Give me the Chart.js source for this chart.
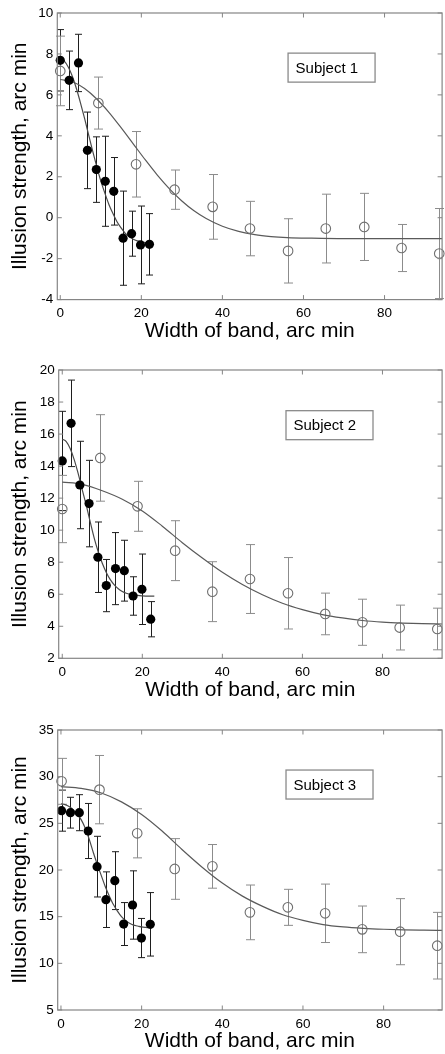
<!DOCTYPE html>
<html><head><meta charset="utf-8">
<script src="https://cdn.jsdelivr.net/npm/chart.js@4/dist/chart.umd.min.js"></script>
<style>
html,body{margin:0;padding:0;background:#fff;overflow:hidden;width:445px;height:1054px;position:relative;}
canvas{position:absolute;left:0;}
</style></head><body>
<canvas id="c1" width="448" height="345" style="top:0px;width:448px;height:345px"></canvas>
<canvas id="c2" width="448" height="347" style="top:357px;width:448px;height:347px"></canvas>
<canvas id="c3" width="448" height="338" style="top:717px;width:448px;height:338px"></canvas>
<script>
// ---------- data ----------
const xTicks = [0, 20, 40, 60, 80];
const xTitle = 'Width of band, arc min';
const yTitle = 'Illusion strength, arc min';

// Subject 1
const s1Label = 'Subject 1';
const s1YTicks = [-4, -2, 0, 2, 4, 6, 8, 10];
const s1FilledX = [0, 2.2, 4.5, 6.7, 8.9, 11.1, 13.2, 15.5, 17.6, 19.8, 22.0];
const s1FilledY = [7.69, 6.71, 7.56, 3.29, 2.35, 1.78, 1.29, -1.0, -0.78, -1.33, -1.30];
const s1FilledErr = [1.5, 1.43, 1.4, 1.87, 1.6, 2.2, 1.65, 2.3, 1.1, 1.9, 1.5];
const s1OpenX = [0, 9.4, 18.7, 28.2, 37.6, 46.8, 56.2, 65.5, 75.0, 84.2, 93.5];
const s1OpenY = [7.17, 5.6, 2.61, 1.37, 0.53, -0.53, -1.62, -0.53, -0.45, -1.48, -1.75];
const s1OpenErr = [1.7, 1.27, 1.6, 0.96, 1.58, 1.33, 1.57, 1.68, 1.64, 1.15, 2.2];
const s1FitFilledX = [0,1,2,3,4,5,6,7,8,9,10,11,12,13,14,15,16,17,18,19,20,21,22.5];
const s1FitFilledY = [7.75,7.65,7.35,6.9,6.3,5.6,4.85,4.05,3.25,2.5,1.8,1.2,0.65,0.2,-0.2,-0.5,-0.75,-0.92,-1.05,-1.13,-1.18,-1.21,-1.24];
const s1FitOpenX = [0,3,6,9,12,15,18,21,24,27,30,33,36,40,44,48,52,56,62,70,80,95];
const s1FitOpenY = [6.75,6.64,6.31,5.80,5.15,4.40,3.61,2.82,2.07,1.40,0.82,0.34,-0.04,-0.42,-0.67,-0.83,-0.92,-0.97,-1.0,-1.02,-1.02,-1.02];

// Subject 2
const s2Label = 'Subject 2';
const s2YTicks = [2, 4, 6, 8, 10, 12, 14, 16, 18, 20];
const s2FilledX = [0, 2.2, 4.4, 6.7, 8.9, 11.0, 13.3, 15.5, 17.7, 19.9, 22.1];
const s2FilledY = [14.32, 16.67, 12.82, 11.66, 8.31, 6.54, 7.6, 7.47, 5.89, 6.31, 4.44];
const s2FilledErr = [3.1, 2.7, 2.73, 2.7, 2.2, 1.63, 2.25, 1.9, 1.2, 2.2, 1.1];
const s2OpenX = [0, 9.5, 18.8, 28.2, 37.5, 46.9, 56.4, 65.7, 75.0, 84.3, 93.7];
const s2OpenY = [11.32, 14.51, 11.49, 8.72, 6.16, 6.95, 6.06, 4.77, 4.25, 3.92, 3.83];
const s2OpenErr = [2.1, 2.7, 1.56, 1.87, 1.87, 2.15, 2.23, 1.3, 1.44, 1.4, 1.3];
const s2FitFilledX = [0,1,2,3,4,5,6,7,8,9,10,11,12,13,14,15,16,17,18,20,23];
const s2FitFilledY = [15.68,15.53,15.08,14.39,13.51,12.51,11.55,10.5,9.49,8.64,7.93,7.36,6.91,6.58,6.34,6.17,6.06,5.99,5.94,5.90,5.88];
const s2FitOpenX = [0,5,10,15,20,25,30,35,40,45,50,55,60,65,70,75,80,85,90,95];
const s2FitOpenY = [13.0,12.86,12.46,11.93,11.2,10.25,9.22,8.26,7.37,6.61,5.97,5.44,5.04,4.73,4.52,4.36,4.26,4.20,4.16,4.14];

// Subject 3
const s3Label = 'Subject 3';
const s3YTicks = [5, 10, 15, 20, 25, 30, 35];
const s3FilledX = [0.15, 2.35, 4.55, 6.75, 8.95, 11.15, 13.35, 15.55, 17.75, 19.95, 22.15];
const s3FilledY = [26.36, 26.14, 26.14, 24.18, 20.36, 16.82, 18.86, 14.21, 16.25, 12.71, 14.18];
const s3FilledErr = [2.2, 1.65, 1.93, 2.95, 3.25, 2.98, 3.1, 2.3, 3.66, 2.1, 3.4];
const s3OpenX = [0.15, 9.55, 18.9, 28.2, 37.55, 46.85, 56.25, 65.5, 74.7, 84.1, 93.3];
const s3OpenY = [29.5, 28.61, 23.93, 20.11, 20.39, 15.46, 16.0, 15.36, 13.64, 13.39, 11.89];
const s3OpenErr = [2.46, 3.66, 2.63, 3.25, 2.34, 2.93, 1.93, 3.13, 2.5, 3.54, 3.57];
const s3FitFilledX = [0,1,2,3,4,5,6,7,8,9,10,11,12,13,14,15,16,17,18,19,20,21,22.5];
const s3FitFilledY = [27.1,27.0,26.8,26.45,26.0,25.4,24.5,23.3,21.9,20.6,19.4,18.2,17.2,16.3,15.6,15.0,14.6,14.3,14.1,14.0,13.9,13.85,13.8];
const s3FitOpenX = [0,5,10,15,20,25,30,35,40,45,50,55,60,65,70,75,80,85,90,95];
const s3FitOpenY = [28.93,28.75,28.25,27.3,25.95,24.2,22.2,20.3,18.6,17.2,16.1,15.2,14.6,14.15,13.9,13.75,13.65,13.58,13.55,13.53];

// ---------- drawing ----------
const FONT = '"Liberation Sans", Arial, Helvetica, sans-serif';
const zip = (xs, ys) => xs.map((x, i) => ({x: x, y: ys[i]}));

const decor = {
  id: 'decor',
  beforeDatasetsDraw(chart) {
    const {ctx, scales: {x, y}} = chart;
    chart.data.datasets.forEach(ds => {
      if (!ds.errors) return;
      ctx.save();
      ctx.strokeStyle = ds.errorColor;
      ctx.lineWidth = 1;
      const cap = ds.capHalf;
      ds.data.forEach((p, j) => {
        const e = ds.errors[j];
        const px = Math.round(x.getPixelForValue(p.x)) + 0.5;
        const t = y.getPixelForValue(p.y + e), b = y.getPixelForValue(p.y - e);
        ctx.beginPath();
        ctx.moveTo(px, t); ctx.lineTo(px, b);
        ctx.moveTo(px - cap, t); ctx.lineTo(px + cap, t);
        ctx.moveTo(px - cap, b); ctx.lineTo(px + cap, b);
        ctx.stroke();
      });
      ctx.restore();
    });
  },
  afterDraw(chart, args, opts) {
    const {ctx, chartArea: a, scales: {x, y}} = chart;
    ctx.save();
    ctx.strokeStyle = '#858585';
    ctx.lineWidth = 1.2;
    ctx.strokeRect(a.left, a.top, a.right - a.left, a.bottom - a.top);
    const L = 4.5;
    ctx.lineWidth = 1;
    ctx.beginPath();
    x.ticks.forEach(t => {
      const px = x.getPixelForValue(t.value);
      ctx.moveTo(px, a.bottom); ctx.lineTo(px, a.bottom - L);
      ctx.moveTo(px, a.top); ctx.lineTo(px, a.top + L);
    });
    y.ticks.forEach(t => {
      const py = y.getPixelForValue(t.value);
      ctx.moveTo(a.left, py); ctx.lineTo(a.left + L, py);
      ctx.moveTo(a.right, py); ctx.lineTo(a.right - L, py);
    });
    ctx.stroke();
    // subject label box
    const bx = x.getPixelForValue(opts.boxX), by = y.getPixelForValue(opts.boxY);
    ctx.fillStyle = '#fff';
    ctx.fillRect(bx, by, 87, 29);
    ctx.strokeStyle = '#8a8a8a';
    ctx.lineWidth = 1.3;
    ctx.strokeRect(bx, by, 87, 29);
    ctx.fillStyle = '#000';
    ctx.font = '15px ' + FONT;
    ctx.textBaseline = 'alphabetic';
    ctx.textAlign = 'left';
    ctx.fillText(opts.label, bx + 7.5, by + 19.5);
    ctx.restore();
  }
};

function makeChart(id, p) {
  return new Chart(document.getElementById(id), {
    type: 'scatter',
    data: {
      datasets: [
        { data: zip(p.fx, p.fy), errors: p.fe, errorColor: '#1e1e1e', capHalf: 3.5,
          pointRadius: 4.6, pointBackgroundColor: '#000', pointBorderWidth: 0, clip: false },
        { data: zip(p.ox, p.oy), errors: p.oe, errorColor: '#8c8c8c', capHalf: 4.5,
          pointRadius: 4.8, pointBackgroundColor: 'rgba(0,0,0,0)', pointBorderColor: '#6e6e6e', pointBorderWidth: 1.1, clip: false },
        { type: 'line', data: zip(p.ffx, p.ffy), borderColor: '#4a4a4a', borderWidth: 1.2, pointRadius: 0, fill: false, cubicInterpolationMode: 'monotone' },
        { type: 'line', data: zip(p.fox, p.foy), borderColor: '#5a5a5a', borderWidth: 1.2, pointRadius: 0, fill: false, cubicInterpolationMode: 'monotone' }
      ]
    },
    options: {
      responsive: false, animation: false, devicePixelRatio: 1,
      layout: { padding: { top: 13, left: 0, right: 1.5, bottom: 0 } },
      plugins: { legend: { display: false }, tooltip: { enabled: false },
                 decor: { label: p.label, boxX: p.boxX, boxY: p.boxY } },
      scales: {
        x: {
          type: 'linear', position: 'bottom', min: p.xmin, max: p.xmax,
          afterBuildTicks: s => { s.ticks = xTicks.map(v => ({value: v})); },
          afterFit: s => { s.height = p.xh; },
          grid: { display: false, drawTicks: false }, border: { display: false },
          ticks: { color: '#000', font: { size: 13.5, family: FONT }, padding: 6, maxRotation: 0 },
          title: { display: true, text: xTitle, color: '#000', font: { size: 21, family: FONT }, padding: { top: 0, bottom: 1.4 } }
        },
        y: {
          type: 'linear', position: 'left', min: p.yTicks[0], max: p.yTicks[p.yTicks.length - 1],
          afterBuildTicks: s => { s.ticks = p.yTicks.map(v => ({value: v})); },
          afterFit: s => { s.width = p.yw; },
          grid: { display: false, drawTicks: false }, border: { display: false },
          ticks: { color: '#000', font: { size: 13.5, family: FONT }, padding: 4 },
          title: { display: true, text: yTitle, color: '#000', font: { size: 21, family: FONT }, padding: { top: 8, bottom: 0 } }
        }
      }
    },
    plugins: [decor]
  });
}

makeChart('c1', { label: s1Label, yTicks: s1YTicks, xmin: -0.73, xmax: 94.2, xh: 45.4, yw: 57.3,
  fx: s1FilledX, fy: s1FilledY, fe: s1FilledErr, ox: s1OpenX, oy: s1OpenY, oe: s1OpenErr,
  ffx: s1FitFilledX, ffy: s1FitFilledY, fox: s1FitOpenX, foy: s1FitOpenY, boxX: 56.2, boxY: 8.04 });
makeChart('c2', { label: s2Label, yTicks: s2YTicks, xmin: -0.89, xmax: 94.9, xh: 45.7, yw: 58.7,
  fx: s2FilledX, fy: s2FilledY, fe: s2FilledErr, ox: s2OpenX, oy: s2OpenY, oe: s2OpenErr,
  ffx: s2FitFilledX, ffy: s2FitFilledY, fox: s2FitOpenX, foy: s2FitOpenY, boxX: 55.9, boxY: 17.46 });
makeChart('c3', { label: s3Label, yTicks: s3YTicks, xmin: -0.81, xmax: 94.5, xh: 45, yw: 57.7,
  fx: s3FilledX, fy: s3FilledY, fe: s3FilledErr, ox: s3OpenX, oy: s3OpenY, oe: s3OpenErr,
  ffx: s3FitFilledX, ffy: s3FitFilledY, fox: s3FitOpenX, foy: s3FitOpenY, boxX: 55.8, boxY: 30.71 });
</script>
</body></html>
